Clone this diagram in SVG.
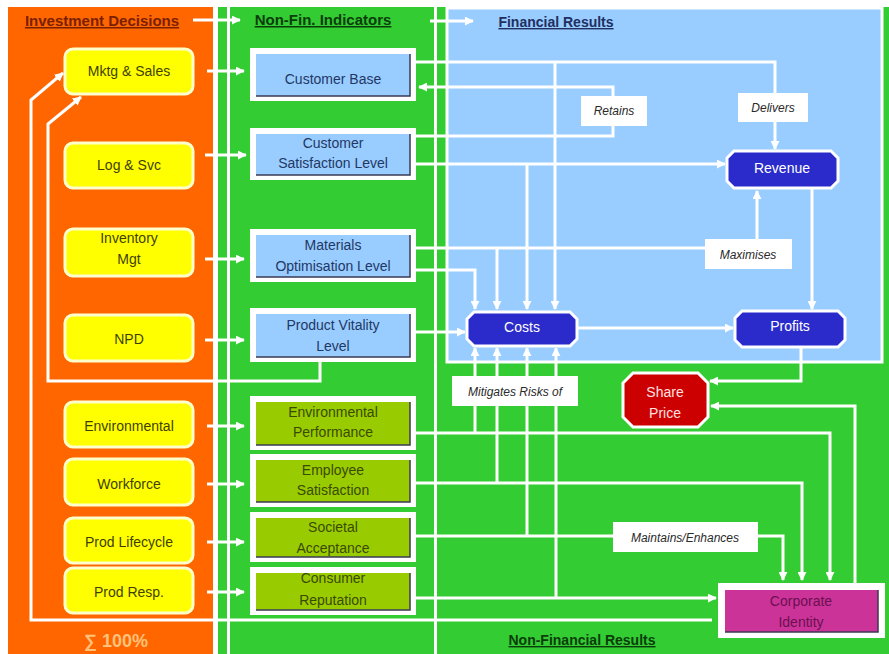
<svg xmlns="http://www.w3.org/2000/svg" width="889" height="654" viewBox="0 0 889 654">
<defs>
<marker id="ah" viewBox="0 0 10 10" refX="9" refY="5" markerWidth="9" markerHeight="9" markerUnits="userSpaceOnUse" orient="auto">
<path d="M0,0 L10,5 L0,10 z" fill="#ffffff"/>
</marker>
<style>
.conn{fill:none;stroke:#ffffff;stroke-width:3}
.arr{marker-end:url(#ah)}
.t{font-family:"Liberation Sans",Arial,sans-serif;font-size:14px;text-anchor:middle}
.hd{font-family:"Liberation Sans",Arial,sans-serif;font-weight:bold;text-decoration:underline}
.ynode{fill:#ffff00;stroke:#ffffcc;stroke-width:3}
.yt{fill:#3f3f00}
.frame{fill:#ffffff}
.bin{fill:#99ccff}
.gin{fill:#99cc00}
.shadow{fill:none;stroke:#3a3a55;stroke-width:1.5}
.bt{fill:#1f3864}
.gt{fill:#3a4a00}
.fin{fill:#2b2bcc;stroke:#ffffff;stroke-width:3}
.wt{fill:#ffffff}
.lbl{fill:#ffffff}
.it{font-family:"Liberation Sans",Arial,sans-serif;font-size:12px;font-style:italic;text-anchor:middle;fill:#2a2a2a}
</style>
</defs>
<rect x="0" y="0" width="889" height="654" fill="#ffffff"/>
<rect x="8" y="7" width="205" height="647" fill="#ff6600"/>
<rect x="218" y="7" width="671" height="647" fill="#33cc33"/>
<rect x="227" y="7" width="3" height="647" fill="#ffffff"/>
<rect x="434" y="7" width="3" height="647" fill="#ffffff"/>
<rect x="447" y="8" width="435" height="354" fill="#99ccff" stroke="#ffffff" stroke-width="3"/>

<text class="hd" x="102" y="26" text-anchor="middle" font-size="15" fill="#7a1f00">Investment Decisions</text>
<text class="hd" x="323" y="25" text-anchor="middle" font-size="15" fill="#0b3d0b">Non-Fin. Indicators</text>
<text class="hd" x="556" y="27" text-anchor="middle" font-size="14" fill="#1f2f5f">Financial Results</text>
<text class="hd" x="582" y="645" text-anchor="middle" font-size="14" fill="#0b3d0b">Non-Financial Results</text>
<text x="116" y="647" text-anchor="middle" font-family="'Liberation Sans',Arial,sans-serif" font-weight="bold" font-size="18" fill="#ffc27a">∑ 100%</text>

<g id="connectors">
<path class="conn arr" d="M193,20 H240"/>
<path class="conn arr" d="M430,21 H473"/>
<path class="conn arr" d="M207,71 H244"/>
<path class="conn arr" d="M205,155 H246"/>
<path class="conn arr" d="M205,259 H244"/>
<path class="conn arr" d="M205,340 H244"/>
<path class="conn arr" d="M207,426 H244"/>
<path class="conn arr" d="M207,484 H244"/>
<path class="conn arr" d="M207,542 H244"/>
<path class="conn arr" d="M207,592 H244"/>
<path class="conn arr" d="M712,620 H31 V100 L63,73"/>
<path class="conn arr" d="M320,362 V381 H48 V124 L81,97"/>
<path class="conn arr" d="M416,62 H775 V149"/>
<path class="conn arr" d="M555,62 V309"/>
<path class="conn arr" d="M416,136 H613 V87 H419"/>
<path class="conn arr" d="M416,164 H725"/>
<path class="conn arr" d="M527,164 V309"/>
<path class="conn arr" d="M416,248 H757 V191"/>
<path class="conn arr" d="M497,248 V309"/>
<path class="conn arr" d="M416,270 H475 V309"/>
<path class="conn arr" d="M416,332 H465"/>
<path class="conn arr" d="M578,328 H733"/>
<path class="conn arr" d="M812,188 V309"/>
<path class="conn arr" d="M801,347 V381 H710"/>
<path class="conn arr" d="M855,583 V406 H711"/>
<path class="conn arr" d="M416,433 H830 V580"/>
<path class="conn arr" d="M475,433 V348"/>
<path class="conn arr" d="M416,483 H802 V580"/>
<path class="conn arr" d="M497,483 V348"/>
<path class="conn arr" d="M416,536 H783 V580"/>
<path class="conn arr" d="M527,536 V348"/>
<path class="conn arr" d="M416,598 H716"/>
<path class="conn arr" d="M556,598 V348"/>
</g>

<g id="mktg"><rect class="ynode" x="65" y="49" width="128" height="45" rx="8"/><text class="t yt" x="129" y="76">Mktg &amp; Sales</text></g>
<g id="log"><rect class="ynode" x="65" y="143" width="128" height="45" rx="8"/><text class="t yt" x="129" y="170">Log &amp; Svc</text></g>
<g id="inv"><rect class="ynode" x="65" y="229" width="128" height="47" rx="8"/><text class="t yt" x="129" y="243">Inventory</text><text class="t yt" x="129" y="264">Mgt</text></g>
<g id="npd"><rect class="ynode" x="65" y="315" width="128" height="46" rx="8"/><text class="t yt" x="129" y="344">NPD</text></g>
<g id="env"><rect class="ynode" x="65" y="402" width="128" height="45" rx="8"/><text class="t yt" x="129" y="431">Environmental</text></g>
<g id="work"><rect class="ynode" x="65" y="459" width="128" height="46" rx="8"/><text class="t yt" x="129" y="489">Workforce</text></g>
<g id="plc"><rect class="ynode" x="65" y="518" width="128" height="45" rx="8"/><text class="t yt" x="129" y="547">Prod Lifecycle</text></g>
<g id="presp"><rect class="ynode" x="65" y="568" width="128" height="45" rx="8"/><text class="t yt" x="129" y="597">Prod Resp.</text></g>

<g id="custbase"><rect class="frame" x="250" y="48" width="166" height="53"/><rect class="bin" x="256" y="54" width="154" height="42"/><path class="shadow" d="M410,54 V96 H256"/><text class="t bt" x="333" y="84">Customer Base</text></g>
<g id="custsat"><rect class="frame" x="250" y="128" width="166" height="52"/><rect class="bin" x="256" y="134" width="154" height="41"/><path class="shadow" d="M410,134 V175 H256"/><text class="t bt" x="333" y="148">Customer</text><text class="t bt" x="333" y="168">Satisfaction Level</text></g>
<g id="matopt"><rect class="frame" x="250" y="229" width="166" height="53"/><rect class="bin" x="256" y="235" width="154" height="42"/><path class="shadow" d="M410,235 V277 H256"/><text class="t bt" x="333" y="250">Materials</text><text class="t bt" x="333" y="271">Optimisation Level</text></g>
<g id="prodvit"><rect class="frame" x="250" y="308" width="166" height="54"/><rect class="bin" x="256" y="314" width="154" height="43"/><path class="shadow" d="M410,314 V357 H256"/><text class="t bt" x="333" y="330">Product  Vitality</text><text class="t bt" x="333" y="351">Level</text></g>

<g id="envperf"><rect class="frame" x="250" y="396" width="166" height="54"/><rect class="gin" x="256" y="402" width="154" height="43"/><path class="shadow" d="M410,402 V445 H256"/><text class="t gt" x="333" y="417">Environmental</text><text class="t gt" x="333" y="437">Performance</text></g>
<g id="empsat"><rect class="frame" x="250" y="454" width="166" height="53"/><rect class="gin" x="256" y="460" width="154" height="42"/><path class="shadow" d="M410,460 V502 H256"/><text class="t gt" x="333" y="475">Employee</text><text class="t gt" x="333" y="495">Satisfaction</text></g>
<g id="socacc"><rect class="frame" x="250" y="512" width="166" height="50"/><rect class="gin" x="256" y="518" width="154" height="39"/><path class="shadow" d="M410,518 V557 H256"/><text class="t gt" x="333" y="532">Societal</text><text class="t gt" x="333" y="553">Acceptance</text></g>
<g id="consrep"><rect class="frame" x="250" y="567" width="166" height="48"/><rect class="gin" x="256" y="573" width="154" height="37"/><path class="shadow" d="M410,573 V610 H256"/><text class="t gt" x="333" y="583">Consumer</text><text class="t gt" x="333" y="605">Reputation</text></g>

<g id="revenue"><path class="fin" d="M734,151 H831 L838,158 V181 L831,188 H734 L727,181 V158 Z"/><text class="t wt" x="782" y="173">Revenue</text></g>
<g id="costs"><path class="fin" d="M474,312 H570 L577,319 V339 L570,346 H474 L467,339 V319 Z"/><text class="t wt" x="522" y="332">Costs</text></g>
<g id="profits"><path class="fin" d="M742,311 H838 L845,318 V340 L838,347 H742 L735,340 V318 Z"/><text class="t wt" x="790" y="331">Profits</text></g>
<g id="share"><path d="M633,373 H698 L708,383 V417 L698,427 H633 L623,417 V383 Z" fill="#cc0000" stroke="#ffffff" stroke-width="3"/><text class="t" x="665" y="397" fill="#ffe0e0">Share</text><text class="t" x="665" y="418" fill="#ffe0e0">Price</text></g>
<g id="corpid"><rect class="frame" x="718" y="583" width="167" height="55"/><rect x="725" y="590" width="153" height="42" fill="#cc3399"/><path class="shadow" d="M878,590 V632 H725"/><text class="t" x="801" y="606" fill="#6a1050">Corporate</text><text class="t" x="801" y="627" fill="#6a1050">Identity</text></g>

<g id="labels">
<g id="lbl-retains"><rect class="lbl" x="581" y="96" width="66" height="30"/><text class="it" x="614" y="115">Retains</text></g>
<g id="lbl-delivers"><rect class="lbl" x="738" y="93" width="70" height="29"/><text class="it" x="773" y="112">Delivers</text></g>
<g id="lbl-maximises"><rect class="lbl" x="705" y="239" width="87" height="30"/><text class="it" x="748" y="259">Maximises</text></g>
<g id="lbl-mitigates"><rect class="lbl" x="452" y="376" width="126" height="30"/><text class="it" x="515" y="396">Mitigates Risks of</text></g>
<g id="lbl-maintains"><rect class="lbl" x="613" y="522" width="145" height="30"/><text class="it" x="685" y="542">Maintains/Enhances</text></g>
</g>
</svg>
